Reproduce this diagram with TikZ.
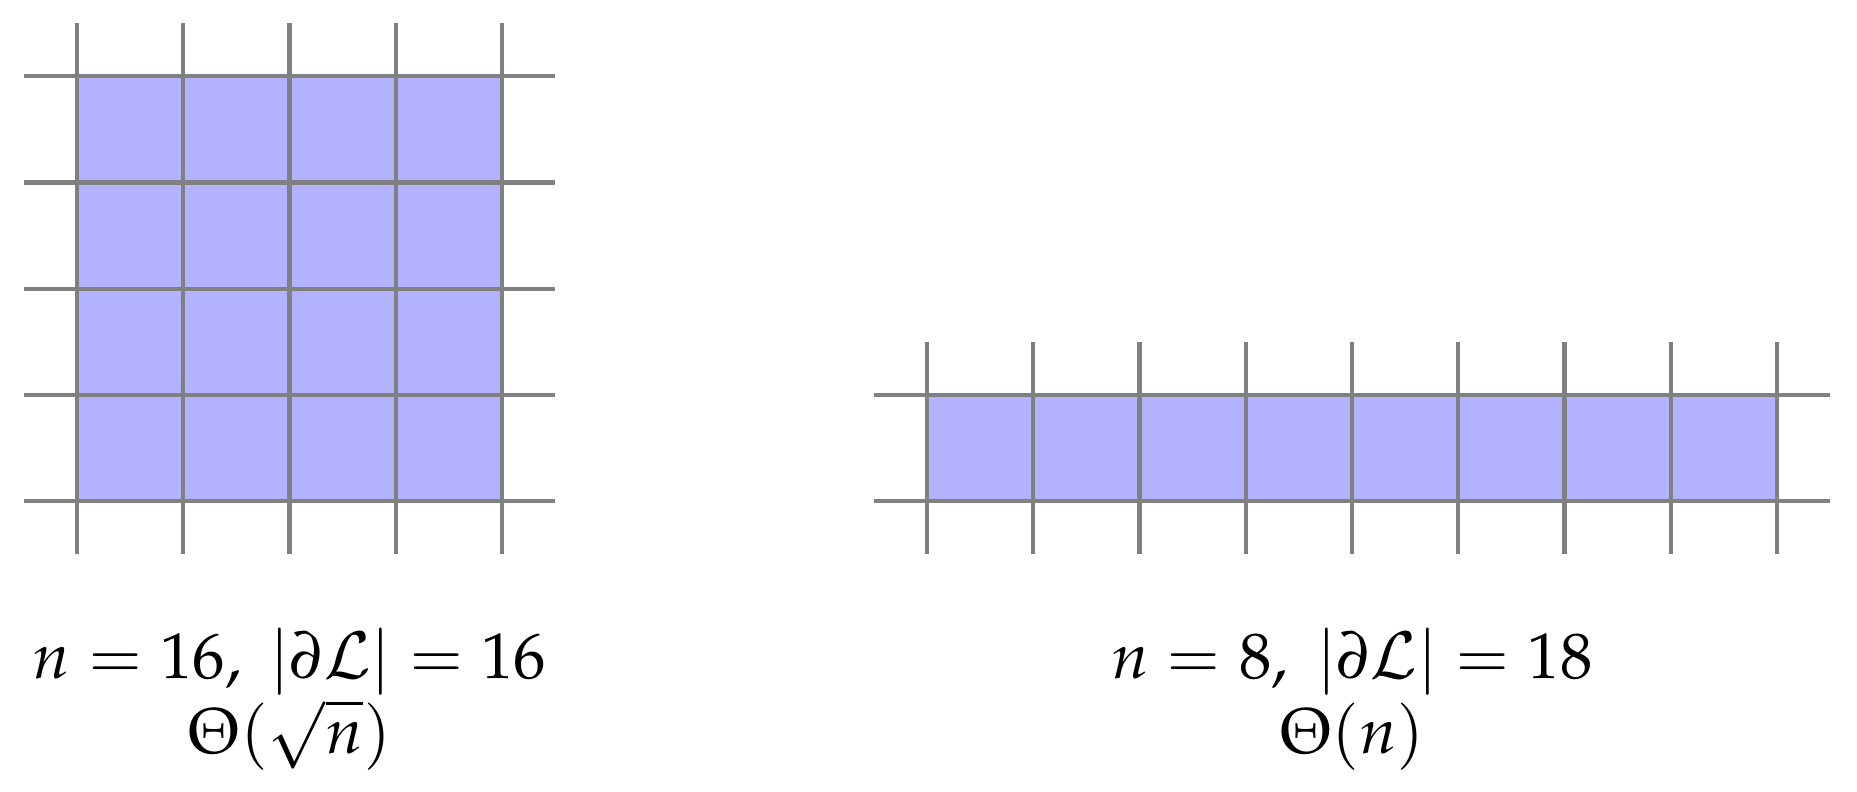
\documentclass[tikz,border=0pt]{standalone}
\usepackage{mathpazo}
\begin{document}
\begin{tikzpicture}[x=1cm,y=1cm,
  gridline/.style={draw=gray, line width=1.1pt},
  cellfill/.style={fill=blue!30},
  lbl/.style={anchor=base, inner sep=0pt, font=\fontsize{17.3}{20.5}\selectfont}]
\useasboundingbox (-0.725,-2.727) rectangle (16.753,4.718);
% left 4x4 block
\fill[cellfill] (0,0) rectangle (4,4);
\foreach \y in {0,...,4} \draw[gridline] (-0.5,\y) -- (4.5,\y);
\foreach \x in {0,...,4} \draw[gridline] (\x,-0.5) -- (\x,4.5);
% right 8x1 block
\fill[cellfill] (8,0) rectangle (16,1);
\foreach \y in {0,1} \draw[gridline] (7.5,\y) -- (16.5,\y);
\foreach \x in {8,...,16} \draw[gridline] (\x,-0.5) -- (\x,1.5);
% labels
\node[lbl] (l1) at (2,-1.666) {$n = 16,\;|\partial\mathcal{L}| = 16$};
\node[lbl] (l2) at (2,-2.376) {$\Theta(\sqrt{n})$};
\node[lbl] (r1) at (12,-1.666) {$n = 8,\;|\partial\mathcal{L}| = 18$};
\node[lbl] (r2) at (12,-2.376) {$\Theta(n)$};
\end{tikzpicture}
\end{document}
